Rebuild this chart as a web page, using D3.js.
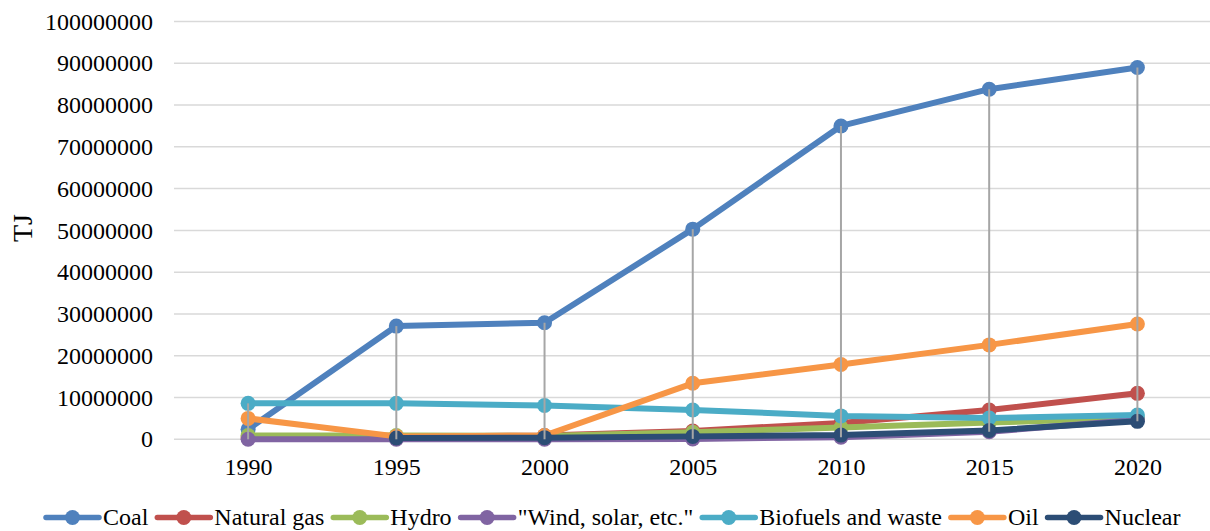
<!DOCTYPE html>
<html>
<head>
<meta charset="utf-8">
<script src="https://cdn.jsdelivr.net/npm/d3@7"></script>
<style>
  html, body { margin: 0; padding: 0; background: #fff; }
  svg { display: block; }
  svg text { font-family: "Liberation Serif", "Times New Roman", Times, serif; fill: #000; }
</style>
</head>
<body>
<svg id="chart" width="1210" height="531"></svg>
<script>
// Energy supply by source, in TJ
const years = ["1990", "1995", "2000", "2005", "2010", "2015", "2020"];
const coal = [2400000, 27100000, 27900000, 50300000, 75000000, 83800000, 89000000];
const naturalGas = [400000, 600000, 900000, 2000000, 3900000, 7000000, 11000000];
const hydro = [900000, 900000, 800000, 1700000, 2800000, 4000000, 5100000];
const windSolar = [0, 0, 0, 100000, 500000, 1800000, 4700000];
const biofuels = [8600000, 8600000, 8100000, 7000000, 5600000, 5100000, 5800000];
const oil = [5000000, 700000, 900000, 13400000, 17900000, 22600000, 27600000];
const nuclear = [null, 300000, 400000, 700000, 1000000, 2100000, 4300000];
const yTicks = [0, 10000000, 20000000, 30000000, 40000000, 50000000, 60000000, 70000000, 80000000, 90000000, 100000000];

const seriesNames = ["Coal", "Natural gas", "Hydro", "\"Wind, solar, etc.\"", "Biofuels and waste", "Oil", "Nuclear"];
const seriesValues = [coal, naturalGas, hydro, windSolar, biofuels, oil, nuclear];
const seriesColors = ["#4F81BD", "#C0504D", "#9BBB59", "#8064A2", "#4BACC6", "#F79646", "#2C4D75"];

const series = seriesNames.map((name, i) => ({
  name, color: seriesColors[i],
  points: years.map((yr, j) => ({ year: yr, value: seriesValues[i][j] }))
}));

const svg = d3.select("#chart");
const plot = { left: 174, right: 1211.5, top: 21.5, bottom: 439.3 };
const fontSize = 24;

const x = d3.scalePoint().domain(years).range([plot.left, plot.right]).padding(0.5);
const y = d3.scaleLinear().domain([0, 100000000]).range([plot.bottom, plot.top]);

// horizontal gridlines
svg.append("g").selectAll("line").data(yTicks).join("line")
  .attr("x1", plot.left).attr("x2", plot.right)
  .attr("y1", d => y(d)).attr("y2", d => y(d))
  .attr("stroke", "#D9D9D9").attr("stroke-width", 1.5);

// y axis labels
const yAxis = d3.axisLeft(y).tickValues(yTicks).tickFormat(d3.format("d")).tickSize(0).tickPadding(0);
const yg = svg.append("g").attr("transform", `translate(${plot.left - 21},0)`).call(yAxis);
yg.attr("font-family", null).attr("font-size", null);
yg.select(".domain").remove();
yg.selectAll("text").attr("font-size", fontSize);

// x axis labels
const xAxis = d3.axisBottom(x).tickSize(0).tickPadding(0);
const xg = svg.append("g").attr("transform", `translate(0,${plot.bottom + 19})`).call(xAxis);
xg.attr("font-family", null).attr("font-size", null);
xg.select(".domain").remove();
xg.selectAll("text").attr("font-size", fontSize);

// axis title
svg.append("text")
  .attr("transform", `translate(32,228) rotate(-90)`)
  .attr("text-anchor", "middle")
  .attr("font-size", 28)
  .text("TJ");

// lines and markers
const line = d3.line()
  .defined(d => d.value !== null)
  .x(d => x(d.year)).y(d => y(d.value));

const sg = svg.append("g").selectAll("g").data(series).join("g");
sg.append("path")
  .attr("d", d => line(d.points))
  .attr("fill", "none")
  .attr("stroke", d => d.color)
  .attr("stroke-width", 6)
  .attr("stroke-linejoin", "round");
sg.each(function (s) {
  d3.select(this).selectAll("circle")
    .data(s.points.filter(p => p.value !== null))
    .join("circle")
    .attr("cx", p => x(p.year)).attr("cy", p => y(p.value))
    .attr("r", 7.5).attr("fill", s.color);
});

// high-low lines spanning all series at each year
const spans = years.map((yr, j) => {
  const vals = seriesValues.map(v => v[j]).filter(v => v !== null);
  return { year: yr, lo: d3.min(vals), hi: d3.max(vals) };
});
svg.append("g").selectAll("line").data(spans).join("line")
  .attr("x1", d => x(d.year)).attr("x2", d => x(d.year))
  .attr("y1", d => y(d.hi)).attr("y2", d => y(d.lo))
  .attr("stroke", "#A6A6A6").attr("stroke-width", 2);

// legend
const legendY = 517.5;
let lx = 44;
const lg = svg.append("g");
series.forEach(s => {
  const g = lg.append("g");
  g.append("line").attr("x1", lx + 2).attr("x2", lx + 55)
    .attr("y1", legendY).attr("y2", legendY)
    .attr("stroke", s.color).attr("stroke-width", 5.5).attr("stroke-linecap", "round");
  g.append("circle").attr("cx", lx + 28.5).attr("cy", legendY).attr("r", 7.5).attr("fill", s.color);
  const t = g.append("text").attr("x", lx + 59).attr("y", legendY)
    .attr("dy", "0.33em").attr("font-size", fontSize).text(s.name);
  lx += 59 + t.node().getComputedTextLength() + 7;
});
</script>
</body>
</html>
